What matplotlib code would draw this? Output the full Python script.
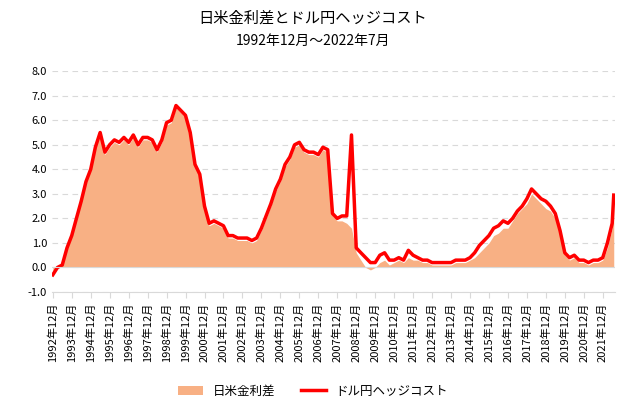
import matplotlib
matplotlib.use("Agg")
import matplotlib.pyplot as plt
import pandas as pd

plt.rcParams["font.family"] = "Noto Sans CJK JP"

start = "1992-12"
hedge = [-0.3,
 0.0,0.1,0.8,1.3, 2.0,2.7,3.5,4.0, 4.9,5.5,4.7,5.0, 5.2,5.1,5.3,5.1,
 5.4,5.0,5.3,5.3, 5.2,4.8,5.2,5.9, 6.0,6.6,6.4,6.2, 5.5,4.2,3.8,2.5,
 1.8,1.9,1.8,1.7, 1.3,1.3,1.2,1.2, 1.2,1.1,1.2,1.6, 2.1,2.6,3.2,3.6,
 4.2,4.5,5.0,5.1, 4.8,4.7,4.7,4.6, 4.9,4.8,2.2,2.0, 2.1,2.1,5.4,0.8,
 0.6,0.4,0.2,0.2, 0.5,0.6,0.3,0.3, 0.4,0.3,0.7,0.5, 0.4,0.3,0.3,0.2,
 0.2,0.2,0.2,0.2, 0.3,0.3,0.3,0.4, 0.6,0.9,1.1,1.3, 1.6,1.7,1.9,1.8,
 2.0,2.3,2.5,2.8, 3.2,3.0,2.8,2.7, 2.5,2.2,1.5,0.6, 0.4,0.5,0.3,0.3,
 0.2,0.3,0.3,0.4, 1.0,1.8]
diff = [-0.3,
 0.0,0.1,0.8,1.3, 2.0,2.7,3.5,4.0, 4.9,5.4,4.6,4.9, 5.1,5.0,5.2,5.0,
 5.3,4.9,5.2,5.2, 5.1,4.7,5.1,5.8, 5.9,6.5,6.3,6.1, 5.4,4.1,3.7,2.4,
 1.7,1.8,1.7,1.6, 1.2,1.2,1.1,1.1, 1.1,1.0,1.1,1.5, 2.0,2.5,3.1,3.5,
 4.1,4.4,4.9,5.0, 4.7,4.6,4.6,4.5, 4.8,4.7,2.1,1.9, 1.9,1.8,1.6,0.6,
 0.3,0.0,-0.1,0.0, 0.2,0.3,0.1,0.2, 0.3,0.2,0.4,0.3, 0.3,0.2,0.2,0.1,
 0.1,0.1,0.1,0.1, 0.2,0.2,0.2,0.3, 0.4,0.6,0.8,1.0, 1.3,1.4,1.6,1.6,
 1.9,2.2,2.4,2.6, 3.0,2.8,2.6,2.4, 2.3,2.0,1.3,0.5, 0.3,0.4,0.2,0.2,
 0.1,0.2,0.2,0.3, 0.8,1.6]
last_date, last_hedge, last_diff = "2022-07", 2.95, 2.8

dates = list(pd.date_range(start, periods=len(hedge), freq="3MS")) + [pd.Timestamp(last_date)]
hedge = hedge + [last_hedge]
diff = diff + [last_diff]

fig = plt.figure(figsize=(6.26, 4.09), dpi=100)
ax = fig.add_axes([0.083, 0.286, 0.9, 0.54])
ax.fill_between(dates, diff, 0, color="#F8B084", lw=0, label="日米金利差")
ax.plot(dates, hedge, color="#FF0000", lw=2.5, label="ドル円ヘッジコスト")
ax.set_ylim(-1, 8)
ax.set_yticks([i for i in range(-1, 9)])
ax.set_yticklabels([f"{v:.1f}" for v in range(-1, 9)], fontsize=8)
ax.grid(axis="y", ls=(0, (5, 4)), color="#D9D9D9", lw=0.8)
ax.axhline(0, color="#D9D9D9", lw=0.8)
ax.set_axisbelow(True)
for s in ["top", "right", "left"]:
    ax.spines[s].set_visible(False)
ax.spines["bottom"].set_position(("data", -1))
ax.spines["bottom"].set_color("#D9D9D9")
ticks = [pd.Timestamp(f"{y}-12-01") for y in range(1992, 2022)]
ax.set_xticks(ticks)
ax.set_xticklabels([f"{y}年12月" for y in range(1992, 2022)], rotation=90, fontsize=8)
ax.tick_params(axis="y", length=0)
ax.tick_params(axis="x", color="#D9D9D9", length=4)
ax.set_xlim(pd.Timestamp("1992-11-15"), pd.Timestamp("2022-08-01"))
fig.text(0.5, 0.945, "日米金利差とドル円ヘッジコスト", ha="center", fontsize=11)
fig.text(0.5, 0.89, "1992年12月～2022年7月", ha="center", fontsize=10)
fig.legend(loc="lower center", bbox_to_anchor=(0.5, 0.0), ncol=2, frameon=False, fontsize=9)
fig.savefig("out.png")
